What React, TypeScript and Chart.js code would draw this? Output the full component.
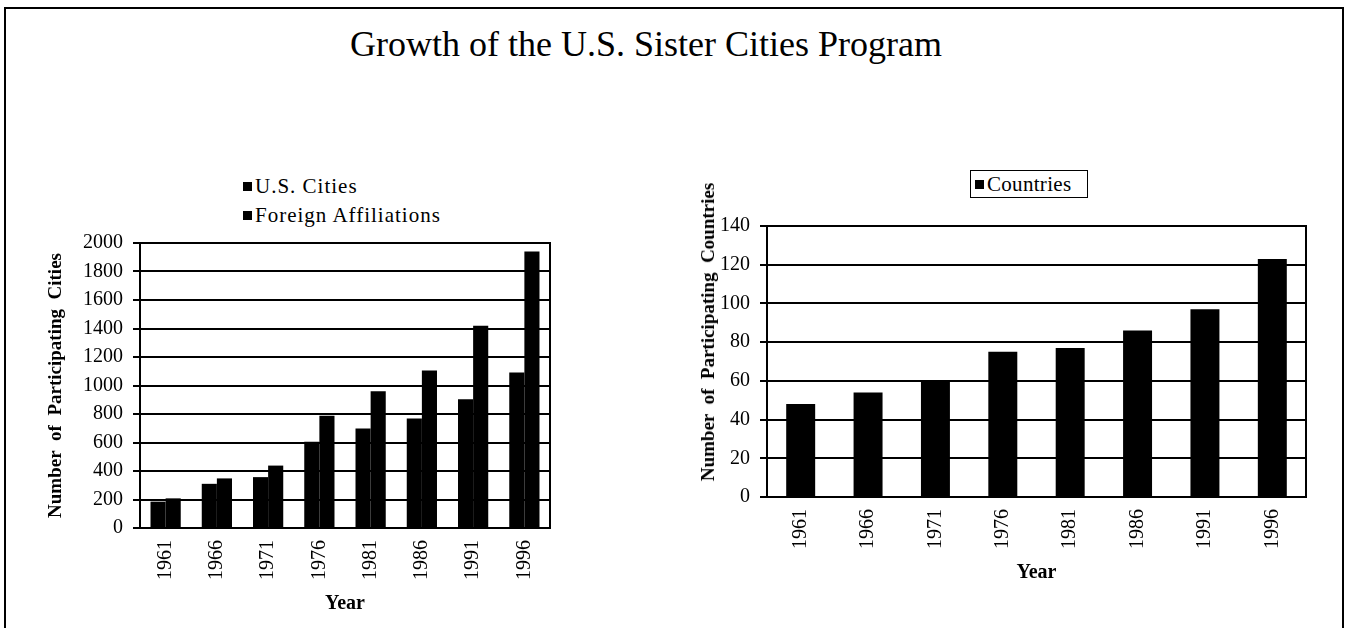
import React, { useEffect, useRef } from "react";
import { Chart, registerables } from "chart.js";

Chart.register(...registerables);

const years = ["1961", "1966", "1971", "1976", "1981", "1986", "1991", "1996"];
const usCities = [185, 310, 357, 606, 698, 769, 904, 1091];
const foreignAffiliations = [208, 348, 438, 788, 959, 1105, 1420, 1941];
const countries = [48, 54, 60, 75, 77, 86, 97, 123];

const SERIF = "'Liberation Serif', 'Times New Roman', serif";

const boxPlugin = {
  id: "plotBox",
  afterDraw(chart: any) {
    const { ctx, chartArea } = chart;
    ctx.save();
    ctx.strokeStyle = "#000";
    ctx.lineWidth = 2;
    ctx.strokeRect(chartArea.left, chartArea.top, chartArea.right - chartArea.left, chartArea.bottom - chartArea.top);
    ctx.restore();
  },
};

function makeOptions(yMax: number, yStep: number, yTitle: string | null, yWidth: number, catPct: number, padRight: number) {
  return {
    animation: false,
    responsive: false,
    maintainAspectRatio: false,
    layout: { padding: { right: padRight, top: 0, left: 0, bottom: 0 } },
    plugins: { legend: { display: false }, tooltip: { enabled: false }, title: { display: false } },
    datasets: { bar: { barPercentage: 1, categoryPercentage: catPct } },
    scales: {
      x: {
        type: "category",
        offset: true,
        grid: { display: false, drawTicks: false },
        border: { display: true, color: "#000", width: 2 },
        ticks: { color: "#000", font: { family: SERIF, size: 20 }, minRotation: 90, maxRotation: 90, padding: 12, autoSkip: false },
        title: { display: true, text: "Year", color: "#000", font: { family: SERIF, size: 20, weight: "bold" }, padding: { top: 4, bottom: 2 } },
        afterFit(scale: any) {
          scale.height = 90;
        },
      },
      y: {
        min: 0,
        max: yMax,
        grid: { color: "#000", lineWidth: 2, drawTicks: true, tickLength: 7, tickColor: "#000" },
        border: { display: true, color: "#000", width: 2 },
        ticks: { stepSize: yStep, color: "#000", font: { family: SERIF, size: 20 }, padding: 10, callback: (v: any) => String(v) },
        title: { display: !!yTitle, text: yTitle || "", color: "#000", font: { family: SERIF, size: 19, weight: "bold" }, padding: { top: 2, bottom: 2 } },
        afterFit(scale: any) {
          scale.width = yWidth;
        },
      },
    },
  } as any;
}

function LeftChart() {
  const ref = useRef<HTMLCanvasElement>(null);
  useEffect(() => {
    const chart = new Chart(ref.current!, {
      type: "bar",
      data: {
        labels: years,
        datasets: [
          { label: "U.S. Cities", data: usCities, backgroundColor: "#000", borderWidth: 0 },
          { label: "Foreign Affiliations", data: foreignAffiliations, backgroundColor: "#000", borderWidth: 0 },
        ],
      },
      options: makeOptions(2000, 200, "Number  of  Participating  Cities", 97, 0.59, 12),
      plugins: [boxPlugin],
    });
    return () => chart.destroy();
  }, []);
  return <canvas ref={ref} width={519} height={397} style={{ position: "absolute", left: 43, top: 221, width: 519, height: 397 }} />;
}

function RightChart() {
  const ref = useRef<HTMLCanvasElement>(null);
  useEffect(() => {
    const chart = new Chart(ref.current!, {
      type: "bar",
      data: {
        labels: years,
        datasets: [{ label: "Countries", data: countries, backgroundColor: "#000", borderWidth: 0 }],
      },
      options: makeOptions(140, 20, null, 74, 0.43, 12),
      plugins: [boxPlugin],
    });
    return () => chart.destroy();
  }, []);
  return <canvas ref={ref} width={625} height={383} style={{ position: "absolute", left: 693, top: 204, width: 625, height: 383 }} />;
}

const legendItem = (label: string, top: number, left: number, spacing: number) => (
  <div style={{ position: "absolute", left, top, display: "flex", alignItems: "center", fontFamily: SERIF, fontSize: 21, letterSpacing: spacing, color: "#000", whiteSpace: "nowrap", lineHeight: "24px" }}>
    <span style={{ display: "inline-block", width: 9, height: 9, background: "#000", marginRight: 3 }} />
    {label}
  </div>
);

export default function App() {
  return (
    <div style={{ position: "fixed", left: 0, top: 0, width: 1348, height: 628, background: "#fff", overflow: "hidden" }}>
      <div style={{ position: "absolute", left: 4, top: 7, width: 1336, height: 640, border: "2px solid #000" }} />
      <div style={{ position: "absolute", left: 0, top: 24, width: 1292, textAlign: "center", fontFamily: SERIF, fontSize: 36, color: "#000", lineHeight: "40px" }}>
        Growth of the U.S. Sister Cities Program
      </div>
      {legendItem("U.S. Cities", 174, 243, 1)}
      {legendItem("Foreign Affiliations", 203, 243, 1)}
      <div style={{ position: "absolute", left: 970, top: 170, width: 118, height: 28, border: "1px solid #000", boxSizing: "border-box" }}>
        {legendItem("Countries", 1, 4, 0.3)}
      </div>
      <LeftChart />
      <RightChart />
      <div
        style={{
          position: "absolute",
          left: 708,
          top: 332,
          transform: "translate(-50%, -50%) rotate(-90deg)",
          fontFamily: SERIF,
          fontSize: 19,
          fontWeight: "bold",
          color: "#000",
          whiteSpace: "pre",
          lineHeight: "22px",
        }}
      >
        {"Number  of  Participating  Countries"}
      </div>
    </div>
  );
}
